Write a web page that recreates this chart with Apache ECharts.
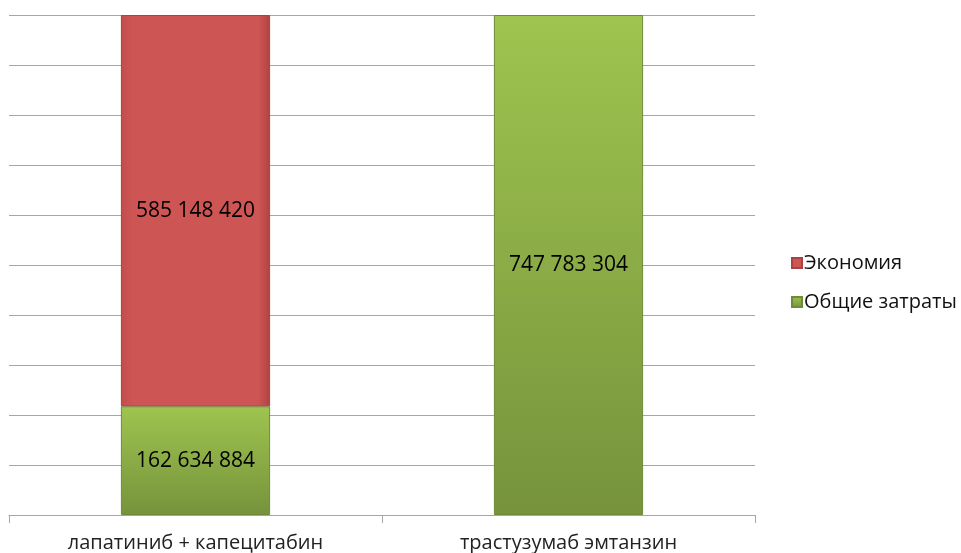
<!DOCTYPE html>
<html>
<head>
<meta charset="utf-8">
<script src="https://cdn.jsdelivr.net/npm/echarts@6/dist/echarts.min.js"></script>
<style>
  html, body { margin: 0; padding: 0; background: #fff; }
  #chart { width: 961px; height: 553px; }
</style>
</head>
<body>
<div id="chart"></div>
<script>
// data
const categories = ['лапатиниб + капецитабин', 'трастузумаб эмтанзин']
const totalCosts = [162634884, 747783304]
const savings = [585148420, null]
const axisMax = 747783304

const fmt = v => String(v).replace(/\B(?=(\d{3})+(?!\d))/g, ' ')

let myChart = echarts.init(document.getElementById('chart'))
let option = {
  animation: false,
  textStyle: {
    fontFamily: '"Open Sans", "Noto Sans", sans-serif'
  },
  grid: {
    left: 9,
    right: 206,
    top: 15,
    bottom: 38,
    outerBoundsMode: 'none'
  },
  legend: {
    data: ['Экономия', 'Общие затраты'],
    orient: 'vertical',
    left: 786,
    top: 248,
    icon: 'rect',
    itemWidth: 10,
    itemHeight: 10,
    itemGap: 19,
    textStyle: {
      fontSize: 20,
      color: '#111',
      padding: [0, 0, 0, -3]
    }
  },
  xAxis: {
    type: 'category',
    data: categories,
    axisLine: {
      lineStyle: { color: '#a6a6a6' }
    },
    axisTick: {
      show: true,
      length: 8,
      lineStyle: { color: '#a6a6a6' }
    },
    axisLabel: {
      fontSize: 20,
      color: '#222',
      margin: 18
    }
  },
  yAxis: {
    type: 'value',
    min: 0,
    max: axisMax,
    interval: axisMax / 10,
    axisLine: { show: false },
    axisTick: { show: false },
    axisLabel: { show: false },
    splitLine: {
      show: true,
      lineStyle: { color: '#a6a6a6' }
    }
  },
  series: [
    {
      name: 'Общие затраты',
      type: 'bar',
      stack: 'total',
      barWidth: '40%',
      data: totalCosts,
      label: {
        show: true,
        formatter: p => fmt(p.value),
        fontSize: 21,
        color: '#000'
      },
      itemStyle: {
        color: {
          type: 'linear', x: 0, y: 0, x2: 0, y2: 1,
          colorStops: [
            { offset: 0, color: '#9fc44f' },
            { offset: 1, color: '#76933c' }
          ]
        },
        borderColor: '#6f8a38',
        borderWidth: 1
      }
    },
    {
      name: 'Экономия',
      type: 'bar',
      stack: 'total',
      data: savings,
      label: {
        show: true,
        formatter: p => p.value ? fmt(p.value) : '',
        fontSize: 21,
        color: '#000'
      },
      itemStyle: {
        color: {
          type: 'linear', x: 0, y: 0, x2: 1, y2: 0,
          colorStops: [
            { offset: 0, color: '#c44d4b' },
            { offset: 0.08, color: '#cd5654' },
            { offset: 0.92, color: '#cd5654' },
            { offset: 1, color: '#b04341' }
          ]
        },
        borderColor: '#a94341',
        borderWidth: 1
      }
    }
  ]
}
myChart.setOption(option, true)
</script>
</body>
</html>
